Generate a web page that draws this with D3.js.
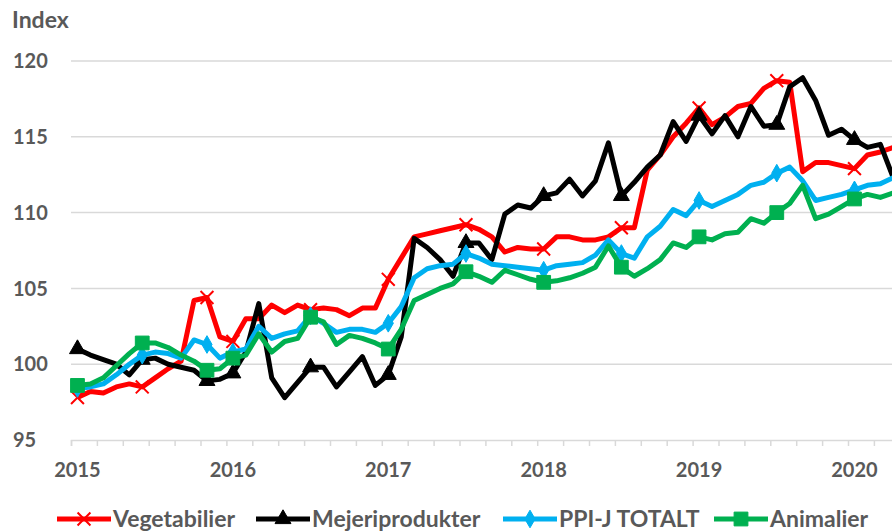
<!DOCTYPE html>
<html>
<head>
<meta charset="utf-8">
<script src="https://cdn.jsdelivr.net/npm/d3@7"></script>
<style>
  body { margin: 0; background: #fff; }
  #chart svg { display: block; font-family: Lato, "Open Sans", sans-serif; font-weight: bold; }
</style>
</head>
<body>
<div id="chart"></div>
<script>
// categories: monthly, Jan 2015 - Apr 2020
const months = d3.timeMonth.range(new Date(2015, 0, 1), new Date(2020, 4, 1));
const yearLabels = ["2015", "2016", "2017", "2018", "2019", "2020"];
const yTicks = [95, 100, 105, 110, 115, 120];
const markerIdx = [0, 5, 10, 12, 18, 24, 30, 36, 42, 48, 54, 60];

const vegetabilier = [
  97.8, 98.2, 98.1, 98.5, 98.7, 98.5, 99.1, 99.7, 100.2, 104.2,
  104.4, 101.8, 101.5, 103.0, 103.0, 103.9, 103.4, 103.9, 103.6, 103.7,
  103.6, 103.2, 103.7, 103.7, 105.6, 107.0, 108.4, 108.6, 108.8, 109.0,
  109.2, 108.9, 108.4, 107.4, 107.7, 107.6, 107.6, 108.4, 108.4, 108.2,
  108.2, 108.4, 109.0, 109.0, 112.8, 113.8, 115.0, 115.9, 116.9, 115.8,
  116.3, 117.0, 117.2, 118.2, 118.7, 118.6, 112.7, 113.3, 113.3, 113.1,
  112.9, 113.8, 114.0, 114.3
];
const mejeriprodukter = [
  101.0, 100.6, 100.3, 100.0, 99.3, 100.3, 100.4, 100.0, 99.8, 99.6,
  98.9, 99.0, 99.4, 100.8, 104.0, 99.1, 97.8, 98.8, 99.8, 99.8,
  98.5, 99.5, 100.5, 98.6, 99.3, 101.8, 108.3, 107.7, 106.9, 105.8,
  108.0, 108.0, 106.9, 109.9, 110.5, 110.3, 111.1, 111.3, 112.2, 111.1,
  112.1, 114.6, 111.1, 112.0, 113.0, 113.8, 116.0, 114.7, 116.4, 115.2,
  116.4, 115.0, 117.0, 115.7, 115.8, 118.3, 118.9, 117.4, 115.1, 115.5,
  114.8, 114.3, 114.5, 112.3
];
const ppiTotalt = [
  98.4, 98.5, 98.7, 99.3, 100.0, 100.6, 100.8, 100.7, 100.4, 101.6,
  101.3, 100.4, 100.8, 101.0, 102.5, 101.7, 102.0, 102.2, 103.2, 102.7,
  102.1, 102.3, 102.3, 102.1, 102.7, 103.8, 105.7, 106.3, 106.5, 106.6,
  107.3, 107.0, 106.6, 106.5, 106.4, 106.3, 106.2, 106.5, 106.6, 106.7,
  107.2, 108.2, 107.3, 107.0, 108.4, 109.1, 110.2, 109.8, 110.8, 110.4,
  110.8, 111.2, 111.8, 112.0, 112.6, 113.0, 112.1, 110.8, 111.0, 111.2,
  111.5, 111.8, 111.9, 112.3
];
const animalier = [
  98.6, 98.7, 99.1, 99.9, 100.7, 101.4, 101.4, 101.1, 100.6, 100.2,
  99.6, 99.7, 100.4, 100.6, 102.0, 100.8, 101.5, 101.7, 103.1, 102.8,
  101.3, 101.9, 101.7, 101.4, 101.0, 102.3, 104.2, 104.6, 105.0, 105.3,
  106.1, 105.8, 105.4, 106.2, 105.9, 105.6, 105.4, 105.5, 105.7, 106.0,
  106.4, 107.8, 106.4, 105.8, 106.3, 106.9, 108.0, 107.7, 108.4, 108.2,
  108.6, 108.7, 109.6, 109.3, 110.0, 110.6, 111.8, 109.6, 109.9, 110.4,
  110.9, 111.2, 111.0, 111.3
];

const series = [
  { name: "Vegetabilier", values: vegetabilier, color: "#FF0000", symbol: d3.symbolX, size: 110, stroke: true },
  { name: "Mejeriprodukter", values: mejeriprodukter, color: "#000000", symbol: d3.symbolTriangle, size: 110 },
  { name: "PPI-J TOTALT", values: ppiTotalt, color: "#00B0F0", symbol: d3.symbolDiamond, size: 90 },
  { name: "Animalier", values: animalier, color: "#00B050", symbol: d3.symbolSquare, size: 190 }
];

const width = 892, height = 531;
const textColor = "#595959", gridColor = "#D9D9D9";

const svg = d3.select("#chart").append("svg")
  .attr("width", width)
  .attr("height", height);

const x = d3.scaleLinear().domain([0, months.length]).range([71, 71 + months.length * 12.95]);
const y = d3.scaleLinear().domain([95, 120]).range([440, 61]);
const px = i => x(i + 0.5);

// gridlines
svg.append("g")
  .selectAll("line")
  .data(yTicks.filter(d => d > 95))
  .join("line")
  .attr("x1", x(0)).attr("x2", x(months.length))
  .attr("y1", d => y(d)).attr("y2", d => y(d))
  .style("stroke", gridColor)
  .style("stroke-width", 1.5);

// y labels
svg.append("g")
  .selectAll("text")
  .data(yTicks)
  .join("text")
  .attr("x", 13)
  .attr("y", d => y(d))
  .attr("dy", "0.36em")
  .style("font-size", "20px")
  .style("fill", textColor)
  .text(d => d);

svg.append("text")
  .attr("x", 12).attr("y", 20)
  .attr("dy", "0.36em")
  .style("font-size", "23px")
  .style("fill", textColor)
  .text("Index");

// x axis: tick every 2 months, label every January
const xaxis = d3.axisBottom(x)
  .tickValues(d3.range(0, months.length + 1, 2))
  .tickSize(6)
  .tickFormat("");

const gx = svg.append("g")
  .attr("class", "x-axis")
  .attr("transform", `translate(0,${y(95)})`)
  .call(xaxis);
gx.select(".domain").style("stroke", gridColor).style("stroke-width", 1.5);
gx.selectAll(".tick line").style("stroke", gridColor).style("stroke-width", 1.5);

svg.append("g")
  .selectAll("text")
  .data(yearLabels)
  .join("text")
  .attr("x", (d, i) => px(i * 12))
  .attr("y", 470)
  .attr("dy", "0.36em")
  .attr("text-anchor", "middle")
  .style("font-size", "20px")
  .style("fill", textColor)
  .text(d => d);

// lines
const line = d3.line()
  .x((d, i) => px(i))
  .y(d => y(d));

const sym = s => d3.symbol().type(s.symbol).size(s.size)();

series.forEach(s => {
  const g = svg.append("g");
  g.append("path")
    .datum(s.values)
    .attr("d", line)
    .style("fill", "none")
    .style("stroke", s.color)
    .style("stroke-width", 5)
    .style("stroke-linejoin", "round");
  g.selectAll(".marker")
    .data(markerIdx.filter(i => i < s.values.length))
    .join("path")
    .attr("class", "marker")
    .attr("transform", i => `translate(${px(i)},${y(s.values[i])})`)
    .attr("d", sym(s))
    .style("fill", s.stroke ? "none" : s.color)
    .style("stroke", s.color)
    .style("stroke-width", s.stroke ? 2 : 1);
});

// legend
const legendX = [57, 256, 503, 714];
const leg = svg.append("g").attr("transform", "translate(0,519)");
series.forEach((s, k) => {
  const g = leg.append("g").attr("transform", `translate(${legendX[k]},0)`);
  g.append("line")
    .attr("x1", 0).attr("x2", 54)
    .style("stroke", s.color)
    .style("stroke-width", 5);
  g.append("path")
    .attr("transform", "translate(27,0)")
    .attr("d", sym(s))
    .style("fill", s.stroke ? "none" : s.color)
    .style("stroke", s.color)
    .style("stroke-width", s.stroke ? 2 : 1);
  g.append("text")
    .attr("x", 56)
    .attr("dy", "0.36em")
    .style("font-size", "23px")
    .style("fill", textColor)
    .text(s.name);
});
</script>
</body>
</html>
